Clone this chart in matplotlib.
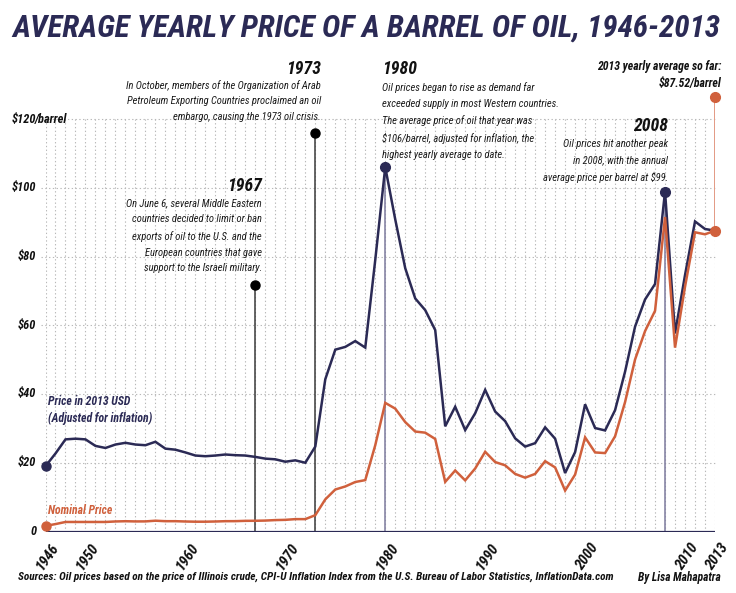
import numpy as np
import matplotlib
matplotlib.use('Agg')
import matplotlib.pyplot as plt
from matplotlib import font_manager

# yearly average price per barrel, 1946-2013
years = np.arange(1946, 2014)
real_price = [19.0, 22.7, 26.8, 27.0, 26.8, 24.9, 24.3, 25.3, 25.8, 25.3,
              25.1, 26.1, 24.1, 23.8, 23.0, 22.1, 21.9, 22.1, 22.4, 22.2,
              22.1, 21.7, 21.2, 21.0, 20.3, 20.7, 20.0, 24.7, 44.3, 52.9,
              53.7, 55.4, 53.5, 79.0, 106.0, 90.8, 76.6, 67.8, 64.4, 58.6,
              30.6, 36.3, 29.5, 34.4, 41.2, 34.9, 32.1, 27.1, 24.7, 25.7,
              30.3, 27.0, 17.0, 23.1, 37.0, 30.1, 29.4, 35.3, 46.5, 59.6,
              67.5, 72.0, 98.9, 57.6, 74.6, 90.2, 88.0, 87.52]
nominal_price = [1.63, 2.16, 2.77, 2.77, 2.77, 2.77, 2.77, 2.92, 2.99, 2.93,
                 2.94, 3.14, 3.00, 3.00, 2.91, 2.85, 2.85, 2.91, 3.00, 3.01,
                 3.10, 3.12, 3.18, 3.32, 3.39, 3.60, 3.60, 4.75, 9.35, 12.21,
                 13.10, 14.40, 14.95, 25.10, 37.42, 35.75, 31.83, 29.08, 28.75, 26.92,
                 14.44, 17.75, 14.87, 18.33, 23.19, 20.20, 19.25, 16.75, 15.66, 16.75,
                 20.46, 18.64, 11.91, 16.56, 27.39, 23.00, 22.81, 27.69, 37.66, 50.04,
                 58.30, 64.20, 91.48, 53.48, 71.21, 87.04, 86.46, 87.52]

y_ticks = [0, 20, 40, 60, 80, 100, 120]
y_labels = ['0', '$20', '$40', '$60', '$80', '$100', '$120']
x_ticks = [1946, 1950, 1960, 1970, 1980, 1990, 2000, 2010, 2013]

# pin heights for the text-only markers
pin_1967 = 71.7
pin_1973 = 115.9
pin_2013 = 126.4

txt_1967 = ("On June 6, several Middle Eastern\ncountries decided to limit or ban\n"
            "exports of oil to the U.S. and the\nEuropean countries that gave\n"
            "support to the Israeli military.")
txt_1973 = ("In October, members of the Organization of Arab\n"
            "Petroleum Exporting Countries proclaimed an oil\n"
            "embargo, causing the 1973 oil crisis.")
txt_1980 = ("Oil prices began to rise as demand far\n"
            "exceeded supply in most Western countries.\n"
            "The average price of oil that year was\n"
            "\\$106/barrel, adjusted for inflation, the\n"
            "highest yearly average to date.")
txt_2008 = ("Oil prices hit another peak\nin 2008, with the annual\n"
            "average price per barrel at \\$99.")

NAVY = '#2b2a55'
ORANGE = '#d0603c'
GRID = '#b8b8b8'

# pick a narrow face if there is one
names = {f.name for f in font_manager.fontManager.ttflist}
family = 'Roboto'
for cand in ['Liberation Sans Narrow', 'Roboto Condensed', 'Open Sans Condensed',
             'Noto Sans Condensed', 'DejaVu Sans Condensed']:
    if cand in names:
        family = cand
        break
plt.rcParams['font.family'] = [family, 'DejaVu Sans']

W, H = 736, 593
fig = plt.figure(figsize=(W / 100, H / 100), dpi=100)
ax = fig.add_axes([45.5 / W, 61.5 / H, 669.5 / W, 130 * 3.4375 / H])
ax.set_xlim(1946, 2013)
ax.set_ylim(0, 130)
ax.axis('off')
renderer = fig.canvas.get_renderer()


def fit(t, width):
    # scale a text so its widest line spans `width` pixels
    w = t.get_window_extent(renderer).width
    t.set_fontsize(t.get_fontsize() * width / w)
    return t


def ftext(x, y, s, width=None, **kw):
    t = fig.text(x / W, 1 - y / H, s, **kw)
    if width:
        fit(t, width)
    return t


# grid
ax.vlines(years, 0, 120, colors=GRID, linestyles=(0, (1.2, 2.2)), lw=0.8, zorder=1)
ax.hlines(y_ticks[1:], 1945.5, 2013, colors=GRID, linestyles=(0, (1.2, 2.2)), lw=0.8,
          zorder=1, clip_on=False)
ax.plot([1946, 2013], [0, 0], color=NAVY, lw=1.6, solid_capstyle='butt', zorder=3)

# event pins
ax.plot([1967, 1967], [0, pin_1967], color='#3a3a3a', lw=1.1, zorder=2)
ax.plot([1967], [pin_1967], 'o', color='black', ms=6.5, zorder=4)
ax.plot([1973, 1973], [0, pin_1973], color='#3a3a3a', lw=1.1, zorder=2)
ax.plot([1973], [pin_1973], 'o', color='black', ms=6.5, zorder=4)
i80 = list(years).index(1980)
i08 = list(years).index(2008)
ax.plot([1980, 1980], [0, real_price[i80]], color='#7d7b9e', lw=1.1, zorder=2)
ax.plot([2008, 2008], [0, real_price[i08]], color='#7d7b9e', lw=1.1, zorder=2)
ax.plot([2013, 2013], [nominal_price[-1], pin_2013], color='#e39a84', lw=1.4, zorder=2)

# series
ax.plot(years, real_price, color=NAVY, lw=1.8, zorder=5, solid_joinstyle='miter')
ax.plot(years, nominal_price, color=ORANGE, lw=1.8, zorder=5, solid_joinstyle='miter')
ax.plot([1946], [real_price[0]], 'o', color=NAVY, ms=6.5, zorder=6, clip_on=False)
ax.plot([1946], [nominal_price[0]], 'o', color=ORANGE, ms=6.5, zorder=6, clip_on=False)
ax.plot([1980, 2008], [real_price[i80], real_price[i08]], 'o', color=NAVY, ms=7, zorder=6)
ax.plot([2013, 2013], [nominal_price[-1], pin_2013], 'o', color=ORANGE, ms=7,
        zorder=6, clip_on=False)

# axis labels
bi = dict(fontweight='bold', fontstyle='italic')
ref = ax.text(0, 0, '$100', fontsize=10, **bi)
fit(ref, 24)
ysize = ref.get_fontsize()
ref.remove()
for v, lab in zip(y_ticks, y_labels):
    ax.text(-0.0135, v, lab, transform=ax.get_yaxis_transform(), ha='right', va='center',
            fontsize=ysize, color='#111111', **bi)
ax.text(-0.0165, 120, '/barrel', transform=ax.get_yaxis_transform(), ha='left', va='center',
        fontsize=ysize, color='#111111', **bi)

ref = ax.text(0, 0, '1950', fontsize=10, **bi)
fit(ref, 29)
xsize = ref.get_fontsize()
ref.remove()
for yr in x_ticks:
    ax.text(yr + 0.45, -2.6, str(yr), ha='right', va='top', rotation=55,
            rotation_mode='anchor', fontsize=xsize, color='#111111', clip_on=False, **bi)

# title and footer
ftext(12, 28, 'AVERAGE YEARLY PRICE OF A BARREL OF OIL, 1946-2013', width=709,
      ha='left', va='center', fontsize=29, color=NAVY, **bi)
ftext(18, 577, 'Sources: Oil prices based on the price of Illinois crude, CPI-U Inflation Index '
      'from the U.S. Bureau of Labor Statistics, InflationData.com', width=596,
      ha='left', va='center', fontsize=9, color='#111111', **bi)
ftext(721, 577, 'By Lisa Mahapatra', width=83, ha='right', va='center', fontsize=9,
      color='#111111', **bi)

# series labels
ftext(48, 410, 'Price in 2013 USD\n(Adjusted for inflation)', width=105, ha='left',
      va='center', fontsize=11, color=NAVY, linespacing=1.4, **bi)
ftext(48, 511, 'Nominal Price', width=64, ha='left', va='center', fontsize=11,
      color=ORANGE, **bi)

# event notes
para = dict(fontstyle='italic', fontsize=10, color='#1a1a1a', linespacing=1.72)
head = dict(fontweight='bold', fontstyle='italic', fontsize=15, color='#111111')
ref = fig.text(0, 0, '1967', **head)
fit(ref, 35)
head['fontsize'] = ref.get_fontsize()
ref.remove()
ref = fig.text(0, 0, 'On June 6, several Middle Eastern', **para)
fit(ref, 136)
para['fontsize'] = ref.get_fontsize()
ref.remove()

ftext(262, 186, '1967', ha='right', va='center', **head)
ftext(262, 236, txt_1967, ha='right', va='center', multialignment='right', **para)
ftext(321, 69, '1973', ha='right', va='center', **head)
ftext(321, 101, txt_1973, ha='right', va='center', multialignment='right', **para)
ftext(382, 69, '1980', ha='left', va='center', **head)
ftext(382, 121, txt_1980, ha='left', va='center', multialignment='left', **para)
ftext(668, 126, '2008', ha='right', va='center', **head)
ftext(668, 161, txt_2008, ha='right', va='center', multialignment='right', **para)
ftext(721, 75, '2013 yearly average so far:\n\\$87.52/barrel', width=125, ha='right',
      va='center', multialignment='right', fontsize=10.5, fontweight='bold',
      fontstyle='italic', color='#111111', linespacing=1.35)

fig.savefig('out.png', dpi=100)
